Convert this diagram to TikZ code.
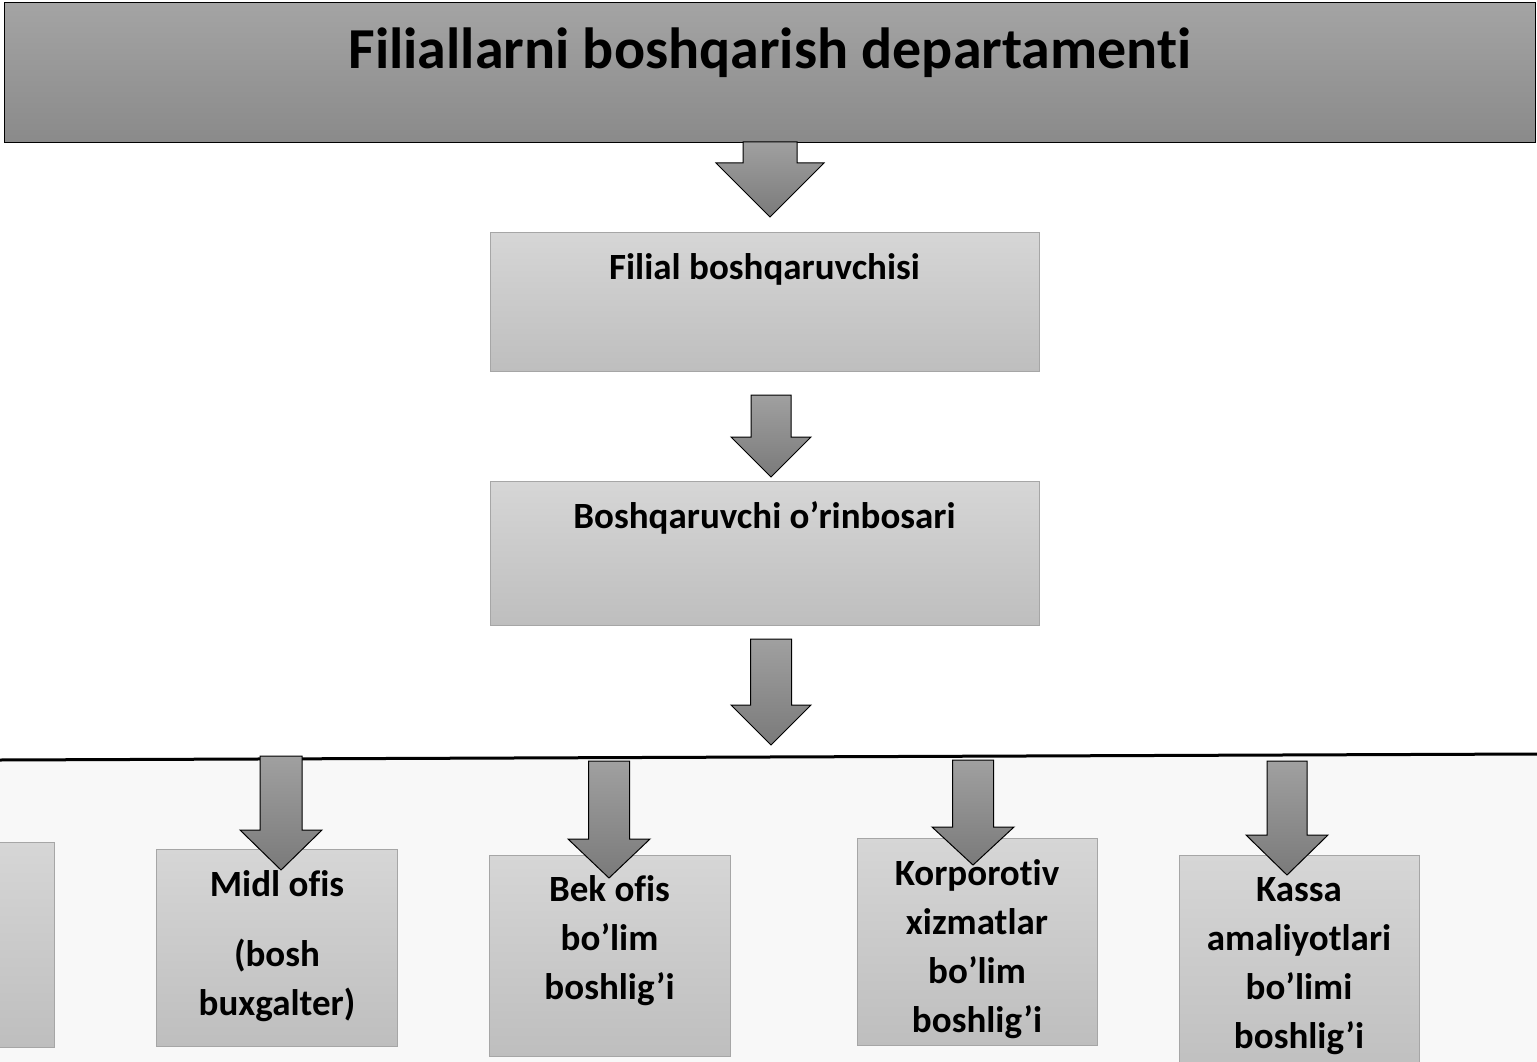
\documentclass[tikz,border=0pt]{standalone}
\usepackage{fontspec}
\setmainfont{Carlito}[Ligatures=CommonOff]
\definecolor{bannertop}{HTML}{A4A4A4}
\definecolor{bannerbot}{HTML}{8A8A8A}
\definecolor{boxtop}{HTML}{D6D6D6}
\definecolor{boxbot}{HTML}{BEBEBE}
\definecolor{boxline}{HTML}{A6A6A6}
\definecolor{arrtop}{HTML}{A0A0A0}
\definecolor{arrbot}{HTML}{7A7A7A}
\definecolor{lowbg}{HTML}{F8F8F8}
\newcommand\blkarrow[7]{%
  \path[arrowshape] (#2-#6,#3) -- (#2+#6,#3) -- (#2+#6,#4) -- (#2+#7,#4)
    -- (#2,#5) coordinate (#1) -- (#2-#7,#4) -- (#2-#6,#4) -- cycle;}
\begin{document}
\begin{tikzpicture}[x=1pt,y=-1pt,
  box/.style={draw=boxline, line width=1.3pt, top color=boxtop, bottom color=boxbot, inner sep=0pt, anchor=north west},
  arrowshape/.style={draw=black, line width=1pt, line join=miter, top color=arrtop, bottom color=arrbot},
  lbl/.style={font=\fontsize{37}{37}\selectfont\bfseries, inner sep=0pt},
  mlbl/.style={font=\fontsize{37}{49}\selectfont\bfseries, inner sep=0pt, align=center}]
\useasboundingbox (0,0) rectangle (1537,1062);
\fill[white] (0,0) rectangle (1537,1062);
% lower background and separating line
\coordinate (lineL) at (0,760);
\coordinate (lineR) at (1537,754);
\fill[lowbg] (lineL) -- (lineR) -- (1537,1062) -- (0,1062) -- cycle;
\draw[line width=3pt] (lineL) -- (lineR);
% banner
\node[draw=black, line width=1pt, top color=bannertop, bottom color=bannerbot,
      minimum width=1531pt, minimum height=140pt, inner sep=0pt, anchor=north west] (dep) at (4,2) {};
\node[font=\fontsize{58}{58}\selectfont\bfseries, inner sep=0pt] (dept) at (770,53) {Filiallarni boshqarish departamenti};
% middle boxes
\node[box, minimum width=549pt, minimum height=139pt] (fb) at (490,232) {};
\node[lbl] (fbt) at (764.5,269) {Filial boshqaruvchisi};
\node[box, minimum width=549pt, minimum height=144pt] (bo) at (490,481) {};
\node[lbl] (bot) at (764.5,518) {Boshqaruvchi o’rinbosari};
% bottom boxes
\node[box, anchor=north east, minimum width=80pt, minimum height=205pt] (lb) at (55,842) {};
\node[box, minimum width=241pt, minimum height=197pt] (mo) at (156,849) {};
\node[box, minimum width=241pt, minimum height=201pt] (bk) at (489,855) {};
\node[box, minimum width=240pt, minimum height=207pt] (kx) at (857,838) {};
\node[box, minimum width=240pt, minimum height=230pt] (ka) at (1179,855) {};
\node[mlbl] (mot) at (277,946) {Midl ofis\\[21pt](bosh\\buxgalter)};
\node[mlbl] (bkt) at (609.5,941) {Bek ofis\\bo’lim\\boshlig’i};
\node[mlbl] (kxt) at (977,949) {Korporotiv\\xizmatlar\\bo’lim\\boshlig’i};
\node[mlbl] (kat) at (1299,966) {Kassa\\amaliyotlari\\bo’limi\\boshlig’i};
% block arrows
\blkarrow{a1}{770}{142}{163}{217}{27}{54}
\blkarrow{a2}{771}{395}{437}{477}{20}{40}
\blkarrow{a3}{771}{639}{705}{745}{20.5}{40}
\blkarrow{a4}{281}{756}{830}{870}{21}{41}
\blkarrow{a5}{609}{761}{839}{878}{20.5}{41}
\blkarrow{a6}{973}{760}{827}{865}{20.5}{41}
\blkarrow{a7}{1287}{761}{835}{875}{20}{41}
\end{tikzpicture}
\end{document}
